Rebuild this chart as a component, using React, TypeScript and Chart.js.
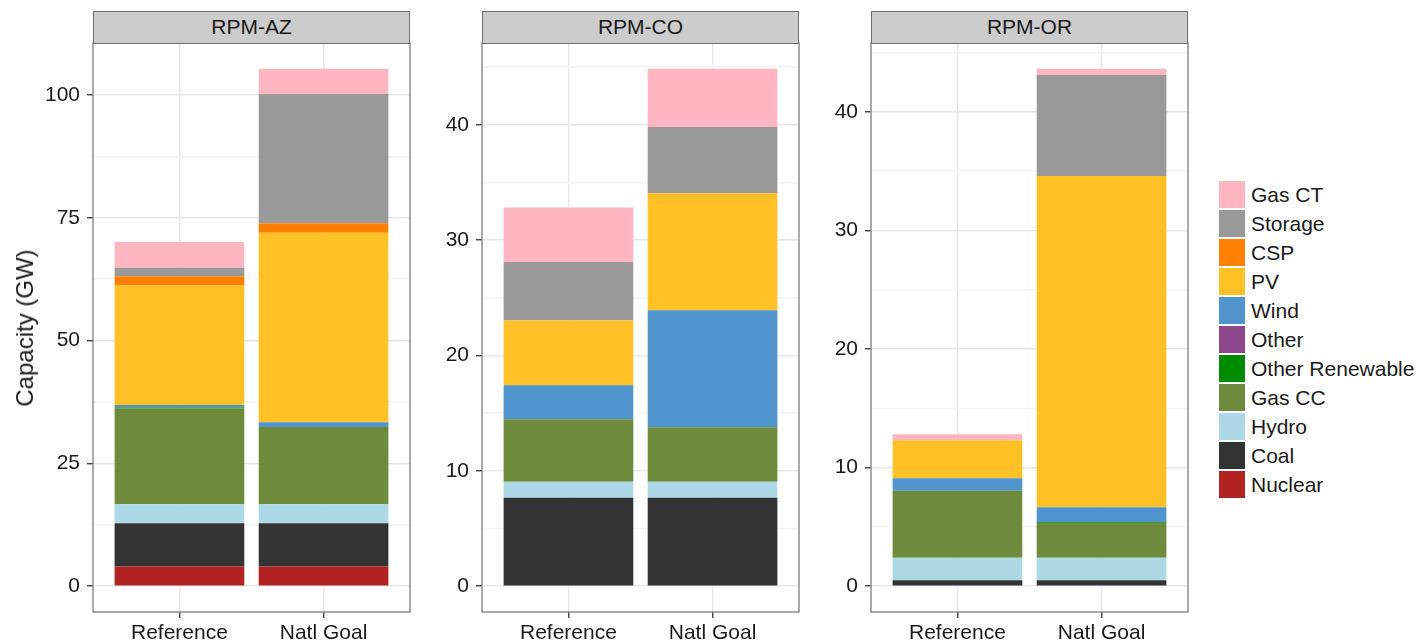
import React, { useEffect, useRef } from 'react';
import { Chart, registerables } from 'chart.js';

Chart.register(...registerables);

// Stack order from bottom to top
const technologies = ['Nuclear', 'Coal', 'Hydro', 'Gas CC', 'Other Renewable', 'Other', 'Wind', 'PV', 'CSP', 'Storage', 'Gas CT'];
const techColors = ['#B22222', '#333333', '#ADD8E6', '#6E8B3D', '#008B00', '#8B4789', '#4F94CD', '#FFC125', '#FF7F00', '#999999', '#FFB6C1'];
const scenarios = ['Reference', 'Natl Goal'];
const regions = ['RPM-AZ', 'RPM-CO', 'RPM-OR'];

// Capacity (GW) per technology: [Reference, Natl Goal]
const azValues = [
  [4.0, 4.0], [8.8, 8.8], [3.87, 3.87], [19.5, 15.75], [0.2, 0], [0, 0],
  [0.5, 0.95], [24.35, 38.6], [1.9, 1.9], [1.7, 26.35], [5.25, 5.1],
];
const coValues = [
  [0, 0], [7.67, 7.67], [1.38, 1.38], [5.43, 4.72], [0, 0], [0, 0],
  [2.95, 10.15], [5.6, 10.15], [0, 0], [5.08, 5.75], [4.72, 5.04],
];
const orValues = [
  [0, 0], [0.5, 0.5], [1.9, 1.9], [5.65, 2.93], [0, 0.05], [0, 0],
  [1.05, 1.27], [3.2, 27.93], [0, 0], [0, 8.53], [0.5, 0.51],
];
const regionValues = [azValues, coValues, orValues];
const tickSteps = [25, 10, 10];

const FONT = '"Liberation Sans", Arial, Helvetica, sans-serif';
const TEXT = '#1a1a1a';
const PANEL_LEFTS = [93, 482, 871];
const AXIS_W = 70;
const PANEL_W = 317;
const CANVAS_W = AXIS_W + PANEL_W + 3;
const STRIP_TOP = 11;
const PANEL_TOP = 43;
const PANEL_BOTTOM = 612;
const H = 641;

const panelBorder = {
  id: 'panelBorder',
  afterDraw(chart: any) {
    const { ctx, chartArea: a } = chart;
    ctx.save();
    ctx.strokeStyle = '#7F7F7F';
    ctx.lineWidth = 1.3;
    ctx.strokeRect(a.left, a.top, a.right - a.left, a.bottom - a.top);
    ctx.restore();
  },
};

function Panel({ index }: { index: number }) {
  const ref = useRef<HTMLCanvasElement | null>(null);
  useEffect(() => {
    const values = regionValues[index];
    const step = tickSteps[index];
    const totals = scenarios.map((_, j) => values.reduce((s, v) => s + v[j], 0));
    const top = Math.max(...totals);
    const pad = top * 0.05;
    const isMajor = (v: number) => Math.abs(v / step - Math.round(v / step)) < 1e-6;
    const chart = new Chart(ref.current as HTMLCanvasElement, {
      type: 'bar',
      data: {
        datasets: technologies.map((t, k) => ({
          label: t,
          data: scenarios.map((_, j) => ({ x: j + 1, y: values[k][j] })),
          backgroundColor: techColors[k],
          borderWidth: 0,
          categoryPercentage: 1,
          barPercentage: 0.9,
        })),
      } as any,
      options: {
        animation: false,
        responsive: false,
        events: [],
        layout: { padding: { top: PANEL_TOP, right: 3, left: 0, bottom: 0 } },
        plugins: { legend: { display: false }, tooltip: { enabled: false }, title: { display: false } },
        scales: {
          x: {
            type: 'linear',
            min: 0.4,
            max: 2.6,
            stacked: true,
            offset: false,
            afterBuildTicks: (scale: any) => {
              scale.ticks = scenarios.map((_, j) => ({ value: j + 1 }));
            },
            afterFit: (scale: any) => {
              scale.height = H - PANEL_BOTTOM;
            },
            ticks: {
              autoSkip: false,
              maxRotation: 0,
              padding: 3,
              color: TEXT,
              font: { family: FONT, size: 21 },
              callback: (v: any) => scenarios[Math.round(Number(v)) - 1] ?? '',
            },
            grid: {
              offset: false,
              color: '#E8E8E8',
              lineWidth: 1.5,
              tickColor: '#333333',
              tickWidth: 1.3,
              tickLength: 6,
            },
            border: { display: false },
          },
          y: {
            type: 'linear',
            stacked: true,
            min: -pad,
            max: top + pad,
            afterBuildTicks: (scale: any) => {
              const ticks: any[] = [];
              for (let v = 0; v <= scale.max + 1e-9; v += step / 2) ticks.push({ value: v });
              scale.ticks = ticks;
            },
            afterFit: (scale: any) => {
              scale.width = AXIS_W;
            },
            ticks: {
              autoSkip: false,
              padding: 7,
              color: TEXT,
              font: { family: FONT, size: 21 },
              callback: (v: any) => (isMajor(Number(v)) ? String(Math.round(Number(v))) : ''),
            },
            grid: {
              color: (ctx: any) => (ctx.tick && isMajor(ctx.tick.value) ? '#E8E8E8' : '#F4F4F4'),
              lineWidth: 1.5,
              tickColor: (ctx: any) => (ctx.tick && isMajor(ctx.tick.value) ? '#333333' : 'rgba(0,0,0,0)'),
              tickWidth: 1.3,
              tickLength: 6,
            },
            border: { display: false },
          },
        },
      } as any,
      plugins: [panelBorder],
    });
    return () => chart.destroy();
  }, [index]);
  const left = PANEL_LEFTS[index] - AXIS_W;
  return (
    <>
      <canvas
        ref={ref}
        width={CANVAS_W}
        height={H}
        style={{ position: 'absolute', left, top: 0, width: CANVAS_W, height: H }}
      />
      <div
        style={{
          position: 'absolute',
          left: PANEL_LEFTS[index],
          top: STRIP_TOP,
          width: PANEL_W,
          height: PANEL_TOP - STRIP_TOP + 1,
          boxSizing: 'border-box',
          background: '#CCCCCC',
          border: '1.3px solid #6E6E6E',
          color: TEXT,
          fontFamily: FONT,
          fontSize: 21,
          lineHeight: `${PANEL_TOP - STRIP_TOP - 2}px`,
          textAlign: 'center',
        }}
      >
        {regions[index]}
      </div>
    </>
  );
}

function Legend() {
  const order = technologies.map((_, k) => technologies.length - 1 - k);
  return (
    <div style={{ position: 'absolute', left: 1219, top: 181 }}>
      {order.map((k, r) => (
        <div key={technologies[k]} style={{ position: 'absolute', left: 0, top: r * 29, height: 27, whiteSpace: 'nowrap' }}>
          <div style={{ position: 'absolute', left: 0, top: 0, width: 26, height: 27, background: techColors[k] }} />
          <div
            style={{
              position: 'absolute',
              left: 32,
              top: 0,
              height: 27,
              lineHeight: '27px',
              fontFamily: FONT,
              fontSize: 21,
              color: TEXT,
            }}
          >
            {technologies[k]}
          </div>
        </div>
      ))}
    </div>
  );
}

export default function App() {
  return (
    <div style={{ position: 'absolute', left: 0, top: 0, width: 1420, height: H, background: '#ffffff', overflow: 'hidden' }}>
      {regions.map((_, i) => (
        <Panel key={i} index={i} />
      ))}
      <div
        style={{
          position: 'absolute',
          left: 25,
          top: (PANEL_TOP + PANEL_BOTTOM) / 2,
          transform: 'translate(-50%, -50%) rotate(-90deg)',
          fontFamily: FONT,
          fontSize: 24,
          color: TEXT,
          whiteSpace: 'nowrap',
        }}
      >
        Capacity (GW)
      </div>
      <Legend />
    </div>
  );
}
